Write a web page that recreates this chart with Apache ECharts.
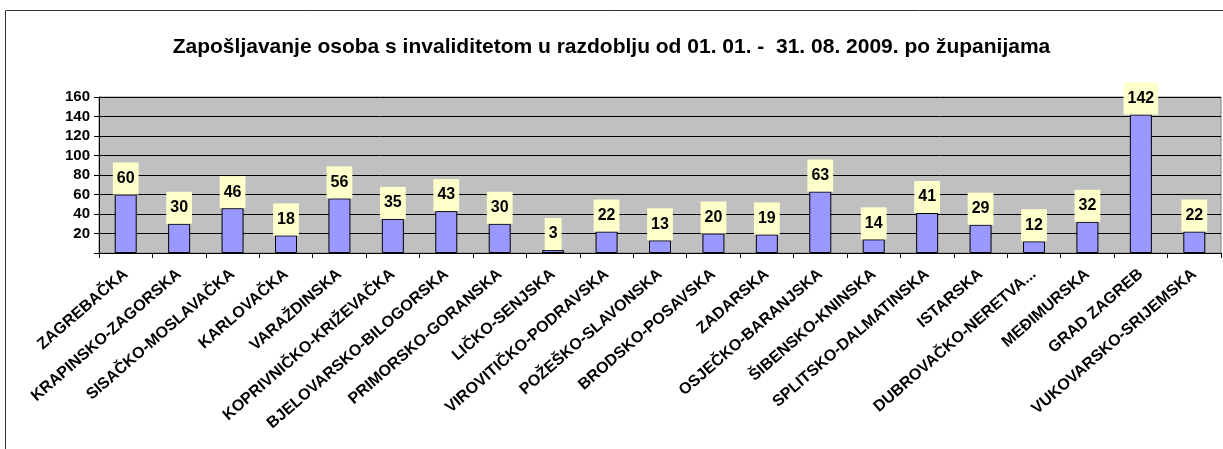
<!DOCTYPE html>
<html>
<head>
<meta charset="utf-8">
<script src="https://cdn.jsdelivr.net/npm/echarts@6/dist/echarts.min.js"></script>
<style>
  html, body { margin: 0; padding: 0; background: #fff; }
  #chart { width: 1223px; height: 449px; }
</style>
</head>
<body>
<div id="chart"></div>
<script>
// zupanije
const zupanije = [
  'ZAGREBAČKA', 'KRAPINSKO-ZAGORSKA', 'SISAČKO-MOSLAVAČKA', 'KARLOVAČKA', 'VARAŽDINSKA',
  'KOPRIVNIČKO-KRIŽEVAČKA', 'BJELOVARSKO-BILOGORSKA', 'PRIMORSKO-GORANSKA', 'LIČKO-SENJSKA',
  'VIROVITIČKO-PODRAVSKA', 'POŽEŠKO-SLAVONSKA', 'BRODSKO-POSAVSKA', 'ZADARSKA',
  'OSJEČKO-BARANJSKA', 'ŠIBENSKO-KNINSKA', 'SPLITSKO-DALMATINSKA', 'ISTARSKA',
  'DUBROVAČKO-NERETVA...', 'MEĐIMURSKA', 'GRAD ZAGREB', 'VUKOVARSKO-SRIJEMSKA'
]
// broj zaposlenih
const zaposleni = [60, 30, 46, 18, 56, 35, 43, 30, 3, 22, 13, 20, 19, 63, 14, 41, 29, 12, 32, 142, 22]
const yTicks = [0, 20, 40, 60, 80, 100, 120, 140, 160]

const font = 'Arial, "Liberation Sans", sans-serif'

let chart = echarts.init(document.getElementById('chart'))
chart.setOption({
  animation: false,
  backgroundColor: '#ffffff',
  textStyle: { fontFamily: font },
  graphic: [
    {
      type: 'rect',
      shape: { x: 5.5, y: 10.5, width: 1240, height: 460 },
      style: { fill: 'none', stroke: '#333', lineWidth: 1 },
      silent: true
    }
  ],
  title: {
    text: 'Zapošljavanje osoba s invaliditetom u razdoblju od 01. 01. -  31. 08. 2009. po županijama',
    left: 'center',
    top: 32,
    textStyle: { fontSize: 21, fontWeight: 'bold', color: '#000', fontFamily: font }
  },
  grid: {
    left: 99, right: 2, top: 97, bottom: 196,
    show: true,
    backgroundColor: '#C0C0C0',
    borderColor: '#808080',
    borderWidth: 1
  },
  xAxis: {
    type: 'category',
    data: zupanije,
    axisLine: { lineStyle: { color: '#000', width: 1 } },
    axisTick: { show: true, length: 5, alignWithLabel: false, lineStyle: { color: '#000' } },
    axisLabel: {
      interval: 0,
      rotate: 41,
      margin: 19,
      fontSize: 16,
      fontWeight: 'bold',
      color: '#000',
      fontFamily: font
    }
  },
  yAxis: {
    type: 'value',
    min: yTicks[0],
    max: yTicks[yTicks.length - 1],
    interval: 20,
    axisLine: { show: true, lineStyle: { color: '#000' } },
    axisTick: { show: true, length: 5, lineStyle: { color: '#000' } },
    axisLabel: {
      fontSize: 15,
      fontWeight: 'bold',
      color: '#000',
      margin: 9,
      fontFamily: font,
      formatter: (v) => (v === 0 ? '' : v)
    },
    splitLine: { show: true, lineStyle: { color: '#000', width: 1 } }
  },
  series: [
    {
      type: 'bar',
      data: zaposleni,
      barWidth: 22,
      itemStyle: { color: '#9999FF', borderColor: '#000', borderWidth: 1 },
      label: {
        show: true,
        position: 'top',
        distance: 0,
        backgroundColor: '#FFFFCC',
        padding: [8, 4, 8, 4],
        fontSize: 16,
        fontWeight: 'bold',
        color: '#000',
        fontFamily: font
      }
    }
  ]
})
</script>
</body>
</html>
